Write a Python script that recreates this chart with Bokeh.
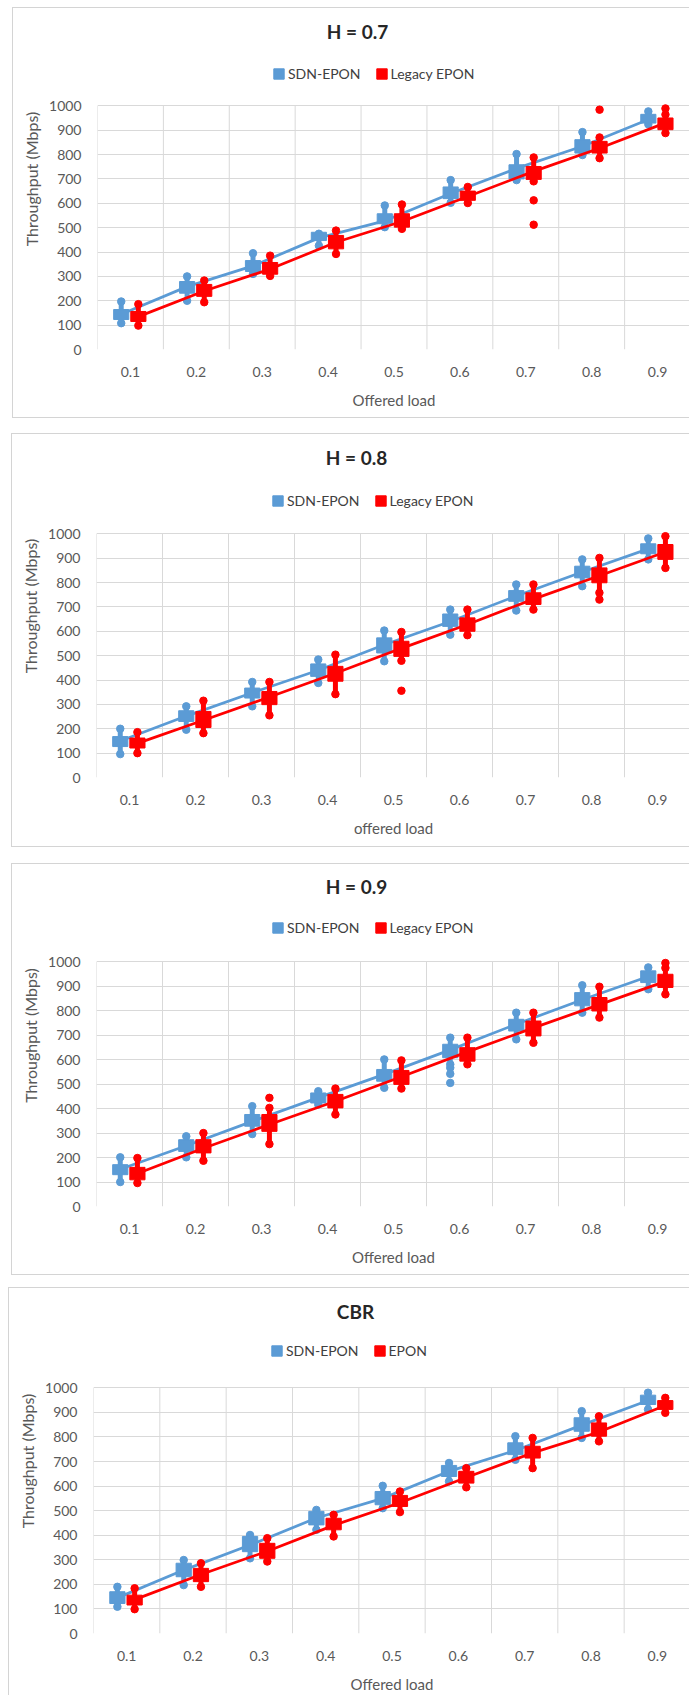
from bokeh.plotting import figure
from bokeh.models import Range1d, FixedTicker, Legend, LegendItem, Label, ColumnDataSource
from bokeh.layouts import column
from bokeh.embed import file_html
from bokeh.resources import INLINE

LOADS = ["0.1", "0.2", "0.3", "0.4", "0.5", "0.6", "0.7", "0.8", "0.9"]
Y_TICKS = [0, 100, 200, 300, 400, 500, 600, 700, 800, 900, 1000]

# ---------------- H = 0.7 ----------------
H07_SDN_Q1 = [123, 231, 320, 447, 516, 619, 700, 806, 929]
H07_SDN_Q3 = [164, 279, 365, 481, 557, 667, 758, 861, 965]
H07_SDN_LO = [108, 200, 310, 426, 502, 602, 695, 798, 924]
H07_SDN_HI = [197, 300, 395, 475, 591, 695, 802, 892, 977]
H07_SDN_MEAN = [145, 258, 343, 458, 528, 640, 743, 834, 944]
H07_SDN_OUT_LOAD = []
H07_SDN_OUT_VAL = []
H07_LEG_Q1 = [115, 218, 309, 413, 502, 612, 698, 806, 902]
H07_LEG_Q3 = [156, 267, 357, 468, 557, 650, 751, 854, 950]
H07_LEG_LO = [98, 194, 302, 392, 495, 601, 690, 785, 888]
H07_LEG_HI = [186, 283, 385, 488, 595, 667, 788, 870, 964]
H07_LEG_MEAN = [135, 240, 330, 440, 525, 628, 731, 826, 930]
H07_LEG_OUT_LOAD = ["0.7", "0.7", "0.8", "0.9"]
H07_LEG_OUT_VAL = [612, 512, 984, 989]

# ---------------- H = 0.8 ----------------
H08_SDN_Q1 = [127, 230, 326, 415, 511, 620, 723, 819, 918]
H08_SDN_Q3 = [168, 274, 367, 466, 573, 671, 767, 867, 959]
H08_SDN_LO = [96, 196, 292, 388, 477, 586, 685, 785, 895]
H08_SDN_HI = [200, 292, 392, 484, 603, 689, 792, 895, 981]
H08_SDN_MEAN = [150, 252, 348, 440, 545, 640, 745, 843, 938]
H08_SDN_OUT_LOAD = []
H08_SDN_OUT_VAL = []
H08_LEG_Q1 = [121, 205, 299, 395, 497, 600, 710, 799, 895]
H08_LEG_Q3 = [162, 271, 353, 456, 559, 655, 758, 860, 956]
H08_LEG_LO = [100, 182, 255, 342, 479, 584, 689, 758, 860]
H08_LEG_HI = [186, 315, 392, 504, 597, 689, 792, 901, 990]
H08_LEG_MEAN = [140, 235, 330, 428, 530, 628, 732, 828, 925]
H08_LEG_OUT_LOAD = ["0.5", "0.8"]
H08_LEG_OUT_VAL = [356, 730]

# ---------------- H = 0.9 ----------------
H09_SDN_Q1 = [130, 225, 328, 423, 512, 608, 717, 820, 915]
H09_SDN_Q3 = [171, 273, 376, 464, 560, 663, 765, 874, 963]
H09_SDN_LO = [100, 201, 296, 417, 485, 581, 683, 792, 888]
H09_SDN_HI = [201, 287, 410, 471, 601, 690, 792, 904, 977]
H09_SDN_MEAN = [152, 248, 348, 445, 540, 640, 745, 845, 940]
H09_SDN_OUT_LOAD = ["0.6", "0.6", "0.6"]
H09_SDN_OUT_VAL = [567, 542, 505]
H09_LEG_Q1 = [109, 219, 307, 403, 499, 594, 697, 799, 895]
H09_LEG_Q3 = [160, 273, 376, 458, 556, 649, 758, 854, 949]
H09_LEG_LO = [96, 187, 255, 376, 482, 581, 669, 772, 867]
H09_LEG_HI = [198, 300, 403, 482, 597, 690, 792, 898, 975]
H09_LEG_MEAN = [135, 238, 335, 430, 530, 632, 730, 825, 920]
H09_LEG_OUT_LOAD = ["0.3", "0.9"]
H09_LEG_OUT_VAL = [444, 995]

# ---------------- CBR ----------------
CBR_SDN_Q1 = [122, 231, 333, 442, 524, 639, 728, 823, 932]
CBR_SDN_Q3 = [170, 286, 395, 497, 578, 684, 776, 878, 970]
CBR_SDN_LO = [109, 197, 306, 422, 510, 619, 707, 796, 912]
CBR_SDN_HI = [190, 299, 401, 503, 601, 694, 803, 905, 980]
CBR_SDN_MEAN = [145, 258, 360, 470, 550, 660, 745, 848, 948]
CBR_SDN_OUT_LOAD = []
CBR_SDN_OUT_VAL = []
CBR_EPON_Q1 = [116, 211, 306, 422, 517, 612, 714, 803, 912]
CBR_EPON_Q3 = [156, 265, 367, 469, 562, 660, 762, 857, 948]
CBR_EPON_LO = [99, 190, 293, 395, 494, 595, 673, 782, 898]
CBR_EPON_HI = [184, 286, 388, 483, 578, 673, 796, 884, 959]
CBR_EPON_MEAN = [138, 240, 335, 440, 532, 635, 735, 820, 928]
CBR_EPON_OUT_LOAD = []
CBR_EPON_OUT_VAL = []

FONT = "Lato"
BLUE = "#5b9bd5"
RED = "#ff0000"
GRID = "#d9d9d9"
BORDER = "#d4d4d4"


def draw_series(p, q1, q3, lo, hi, mean, out_load, out_val, offset, color):
    x = [i + 0.5 + offset for i in range(len(LOADS))]
    src = ColumnDataSource(dict(x=x, q1=q1, q3=q3, lo=lo, hi=hi, mean=mean))
    p.line("x", "mean", source=src, line_color=color, line_width=2.75)
    p.segment(x0="x", y0="lo", x1="x", y1="hi", source=src, line_color=color, line_width=5)
    p.scatter("x", "lo", source=src, size=7.5, color=color)
    p.scatter("x", "hi", source=src, size=7.5, color=color)
    box = p.vbar(x="x", width=0.23, bottom="q1", top="q3", source=src,
                 fill_color=color, line_color=color)
    if out_load:
        ox = [LOADS.index(l) + 0.5 + offset for l in out_load]
        p.scatter(ox, out_val, size=7.5, color=color)
    return box


def make_panel(title, xlabel, names, sdn, leg, g):
    w = 689 - g["left"]
    h = g["bottom"] - g["top"]
    # the frame reaches up to the panel top so that the title and legend can sit in it
    frame_px = g["fb"] - g["top"] - 1
    ymax = Y_TICKS[-1] * frame_px / (g["fb"] - g["ft"])
    styles = {"border-left": f"1px solid {BORDER}", "border-top": f"1px solid {BORDER}"}
    if g.get("border_bottom", True):
        styles["border-bottom"] = f"1px solid {BORDER}"
    p = figure(width=w, height=h, x_range=Range1d(0, len(LOADS)), y_range=Range1d(0, ymax),
               output_backend="svg", toolbar_location=None,
               min_border_left=g["fl"] - g["left"], min_border_right=0,
               min_border_top=0, min_border_bottom=g["bottom"] - g["fb"],
               margin=(g["mt"], 0, 0, g["left"]), styles=styles)
    p.outline_line_color = None
    p.background_fill_color = "white"
    p.border_fill_color = "white"

    p.xaxis.ticker = FixedTicker(ticks=[i + 0.5 for i in range(len(LOADS))])
    p.xaxis.major_label_overrides = {i + 0.5: LOADS[i] for i in range(len(LOADS))}
    p.xgrid.visible = False
    # category boundary lines of the plot area (0 .. 1000 only)
    nb = len(LOADS) + 1
    p.segment(x0=list(range(nb)), y0=[Y_TICKS[0]] * nb, x1=list(range(nb)), y1=[Y_TICKS[-1]] * nb,
              line_color=GRID, line_width=1, level="underlay")
    p.yaxis.ticker = FixedTicker(ticks=Y_TICKS)
    p.yaxis.bounds = (Y_TICKS[0], Y_TICKS[-1])
    for ax in (p.xaxis[0], p.yaxis[0]):
        ax.axis_line_color = None
        ax.major_tick_line_color = None
        ax.minor_tick_line_color = None
        ax.major_label_text_font = FONT
        ax.major_label_text_font_size = "14px"
        ax.major_label_text_color = "#595959"
        ax.axis_label_text_font = FONT
        ax.axis_label_text_font_size = "15px"
        ax.axis_label_text_font_style = "normal"
        ax.axis_label_text_color = "#595959"
    p.yaxis.axis_label_text_font_size = "16px"
    p.xaxis.axis_label = xlabel
    p.yaxis.axis_label = "Throughput (Mbps)"
    p.xaxis.major_label_standoff = 11
    p.xaxis.axis_label_standoff = 11
    p.yaxis.major_label_standoff = 10
    p.yaxis.axis_label_standoff = 5
    p.ygrid.grid_line_color = GRID

    b1 = draw_series(p, *sdn, offset=-0.14, color=BLUE)
    b2 = draw_series(p, *leg, offset=0.12, color=RED)

    p.add_layout(Label(x=354 - g["fl"], y=g["fb"] - g["ty"], x_units="screen", y_units="screen",
                       text=title, text_align="center", text_baseline="middle",
                       text_font=FONT, text_font_size="19px", text_font_style="bold",
                       text_color="#262626"))
    legend = Legend(items=[LegendItem(label=names[0], renderers=[b1]),
                           LegendItem(label=names[1], renderers=[b2])],
                    orientation="horizontal", location=(269 - g["fl"], g["fb"] - g["ly"] - 8),
                    glyph_width=13, glyph_height=13, label_height=13, label_standoff=3,
                    spacing=14, padding=0, margin=0, border_line_color=None,
                    background_fill_alpha=0, label_text_font=FONT,
                    label_text_font_size="14px", label_text_color="#404040",
                    label_text_baseline="middle")
    p.add_layout(legend)
    return p


G1 = dict(left=12, top=7, bottom=418, fl=94, ft=105, fb=348, ty=30, ly=73, mt=7)
G2 = dict(left=11, top=433, bottom=847, fl=94, ft=533, fb=776, ty=456, ly=500, mt=15)
G3 = dict(left=11, top=863, bottom=1275, fl=94, ft=961, fb=1205, ty=885, ly=927, mt=16)
G4 = dict(left=8, top=1287, bottom=1695, fl=92, ft=1387, fb=1632, ty=1310, ly=1350, mt=12,
          border_bottom=False)

p1 = make_panel("H = 0.7", "Offered load", ["SDN-EPON", "Legacy EPON"],
                (H07_SDN_Q1, H07_SDN_Q3, H07_SDN_LO, H07_SDN_HI, H07_SDN_MEAN, H07_SDN_OUT_LOAD, H07_SDN_OUT_VAL),
                (H07_LEG_Q1, H07_LEG_Q3, H07_LEG_LO, H07_LEG_HI, H07_LEG_MEAN, H07_LEG_OUT_LOAD, H07_LEG_OUT_VAL), G1)
p2 = make_panel("H = 0.8", "offered load", ["SDN-EPON", "Legacy EPON"],
                (H08_SDN_Q1, H08_SDN_Q3, H08_SDN_LO, H08_SDN_HI, H08_SDN_MEAN, H08_SDN_OUT_LOAD, H08_SDN_OUT_VAL),
                (H08_LEG_Q1, H08_LEG_Q3, H08_LEG_LO, H08_LEG_HI, H08_LEG_MEAN, H08_LEG_OUT_LOAD, H08_LEG_OUT_VAL), G2)
p3 = make_panel("H = 0.9", "Offered load", ["SDN-EPON", "Legacy EPON"],
                (H09_SDN_Q1, H09_SDN_Q3, H09_SDN_LO, H09_SDN_HI, H09_SDN_MEAN, H09_SDN_OUT_LOAD, H09_SDN_OUT_VAL),
                (H09_LEG_Q1, H09_LEG_Q3, H09_LEG_LO, H09_LEG_HI, H09_LEG_MEAN, H09_LEG_OUT_LOAD, H09_LEG_OUT_VAL), G3)
p4 = make_panel("CBR", "Offered load", ["SDN-EPON", "EPON"],
                (CBR_SDN_Q1, CBR_SDN_Q3, CBR_SDN_LO, CBR_SDN_HI, CBR_SDN_MEAN, CBR_SDN_OUT_LOAD, CBR_SDN_OUT_VAL),
                (CBR_EPON_Q1, CBR_EPON_Q3, CBR_EPON_LO, CBR_EPON_HI, CBR_EPON_MEAN, CBR_EPON_OUT_LOAD, CBR_EPON_OUT_VAL), G4)

layout = column(p1, p2, p3, p4, spacing=0)
open("out.html", "w").write(file_html(layout, INLINE))
